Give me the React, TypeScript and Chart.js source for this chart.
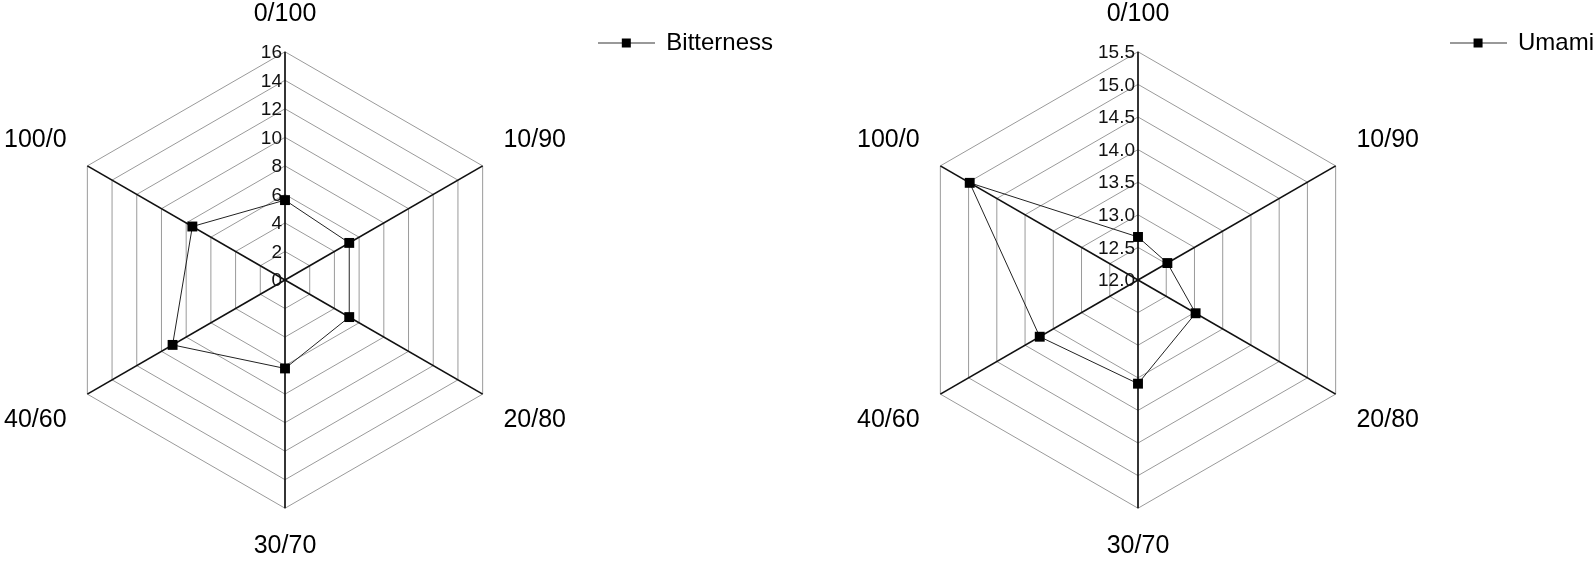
import React, { useEffect, useRef } from "react";
import { Chart, registerables } from "chart.js";

Chart.register(...registerables);

const categories = ["0/100", "10/90", "20/80", "30/70", "40/60", "100/0"];
const bitternessValues = [5.6, 5.2, 5.2, 6.2, 9.1, 7.5];
const umamiValues = [12.66, 12.52, 13.02, 13.59, 13.74, 14.98];
const bitternessTicks = [0, 2, 4, 6, 8, 10, 12, 14, 16];
const umamiTicks = [12.0, 12.5, 13.0, 13.5, 14.0, 14.5, 15.0, 15.5];

const FONT = "'Liberation Sans', Arial, Helvetica, sans-serif";

function makeLegendMarker(): HTMLCanvasElement {
  const c = document.createElement("canvas");
  c.width = 57;
  c.height = 11;
  const ctx = c.getContext("2d")!;
  ctx.strokeStyle = "#333";
  ctx.lineWidth = 1;
  ctx.beginPath();
  ctx.moveTo(0, 5.5);
  ctx.lineTo(57, 5.5);
  ctx.stroke();
  ctx.fillStyle = "#000";
  ctx.fillRect(24, 1, 9, 9);
  return c;
}

type RadarProps = {
  label: string;
  values: number[];
  ticks: number[];
  min: number;
  max: number;
  step: number;
  decimals: number;
  left: number;
  width: number;
};

function RadarChart(props: RadarProps) {
  const ref = useRef<HTMLCanvasElement | null>(null);
  useEffect(() => {
    if (!ref.current) return;
    const marker = makeLegendMarker();
    const tickPlugin = {
      id: "leftTicks",
      beforeDatasetsDraw(chart: any) {
        const scale = chart.scales.r;
        const ctx = chart.ctx;
        ctx.save();
        ctx.font = "19px 'Liberation Sans', Arial, sans-serif";
        ctx.fillStyle = "#111";
        ctx.textAlign = "right";
        ctx.textBaseline = "middle";
        props.ticks.forEach((v) => {
          const d = scale.getDistanceFromCenterForValue(v);
          ctx.fillText(v.toFixed(props.decimals), scale.xCenter - 3, scale.yCenter - d + 1);
        });
        ctx.restore();
      },
    };
    const chart = new Chart(ref.current, {
      type: "radar",
      data: {
        labels: categories,
        datasets: [
          {
            label: props.label,
            data: props.values,
            borderColor: "#222",
            borderWidth: 1,
            backgroundColor: "#000",
            pointBackgroundColor: "#000",
            pointBorderColor: "#000",
            pointStyle: "rect",
            pointRadius: 7,
            pointBorderWidth: 0,
            fill: false,
          },
        ],
      },
      options: {
        responsive: false,
        animation: false,
        layout: { padding: 0 },
        plugins: {
          legend: {
            position: "right",
            align: "start",
            labels: {
              usePointStyle: true,
              pointStyle: marker as any,
              pointStyleWidth: 56,
              padding: 31,
              color: "#000",
              font: { size: 24, family: FONT },
            },
          },
          tooltip: { enabled: false },
        },
        scales: {
          r: {
            min: props.min,
            max: props.max,
            ticks: { stepSize: props.step, display: false },
            grid: { color: "#9a9a9a", lineWidth: 1 },
            angleLines: { color: "#111", lineWidth: 1.7 },
            pointLabels: {
              color: "#000",
              padding: 24,
              font: { size: 25, family: FONT, lineHeight: 1.1 },
            },
          },
        },
      },
      plugins: [tickPlugin],
    });
    return () => chart.destroy();
  }, []);
  return (
    <div style={{ position: "absolute", left: props.left, top: 0, width: props.width, height: 561 }}>
      <canvas ref={ref} width={props.width} height={561} style={{ width: props.width, height: 561, display: "block" }} />
    </div>
  );
}

export default function App() {
  return (
    <div style={{ position: "fixed", left: 0, top: 0, width: 1595, height: 561, overflow: "hidden", background: "#fff" }}>
      <RadarChart label="Bitterness" values={bitternessValues} ticks={bitternessTicks} min={0} max={16} step={2} decimals={0} left={4} width={779} />
      <RadarChart label="Umami" values={umamiValues} ticks={umamiTicks} min={12} max={15.5} step={0.5} decimals={1} left={857} width={747} />
    </div>
  );
}
